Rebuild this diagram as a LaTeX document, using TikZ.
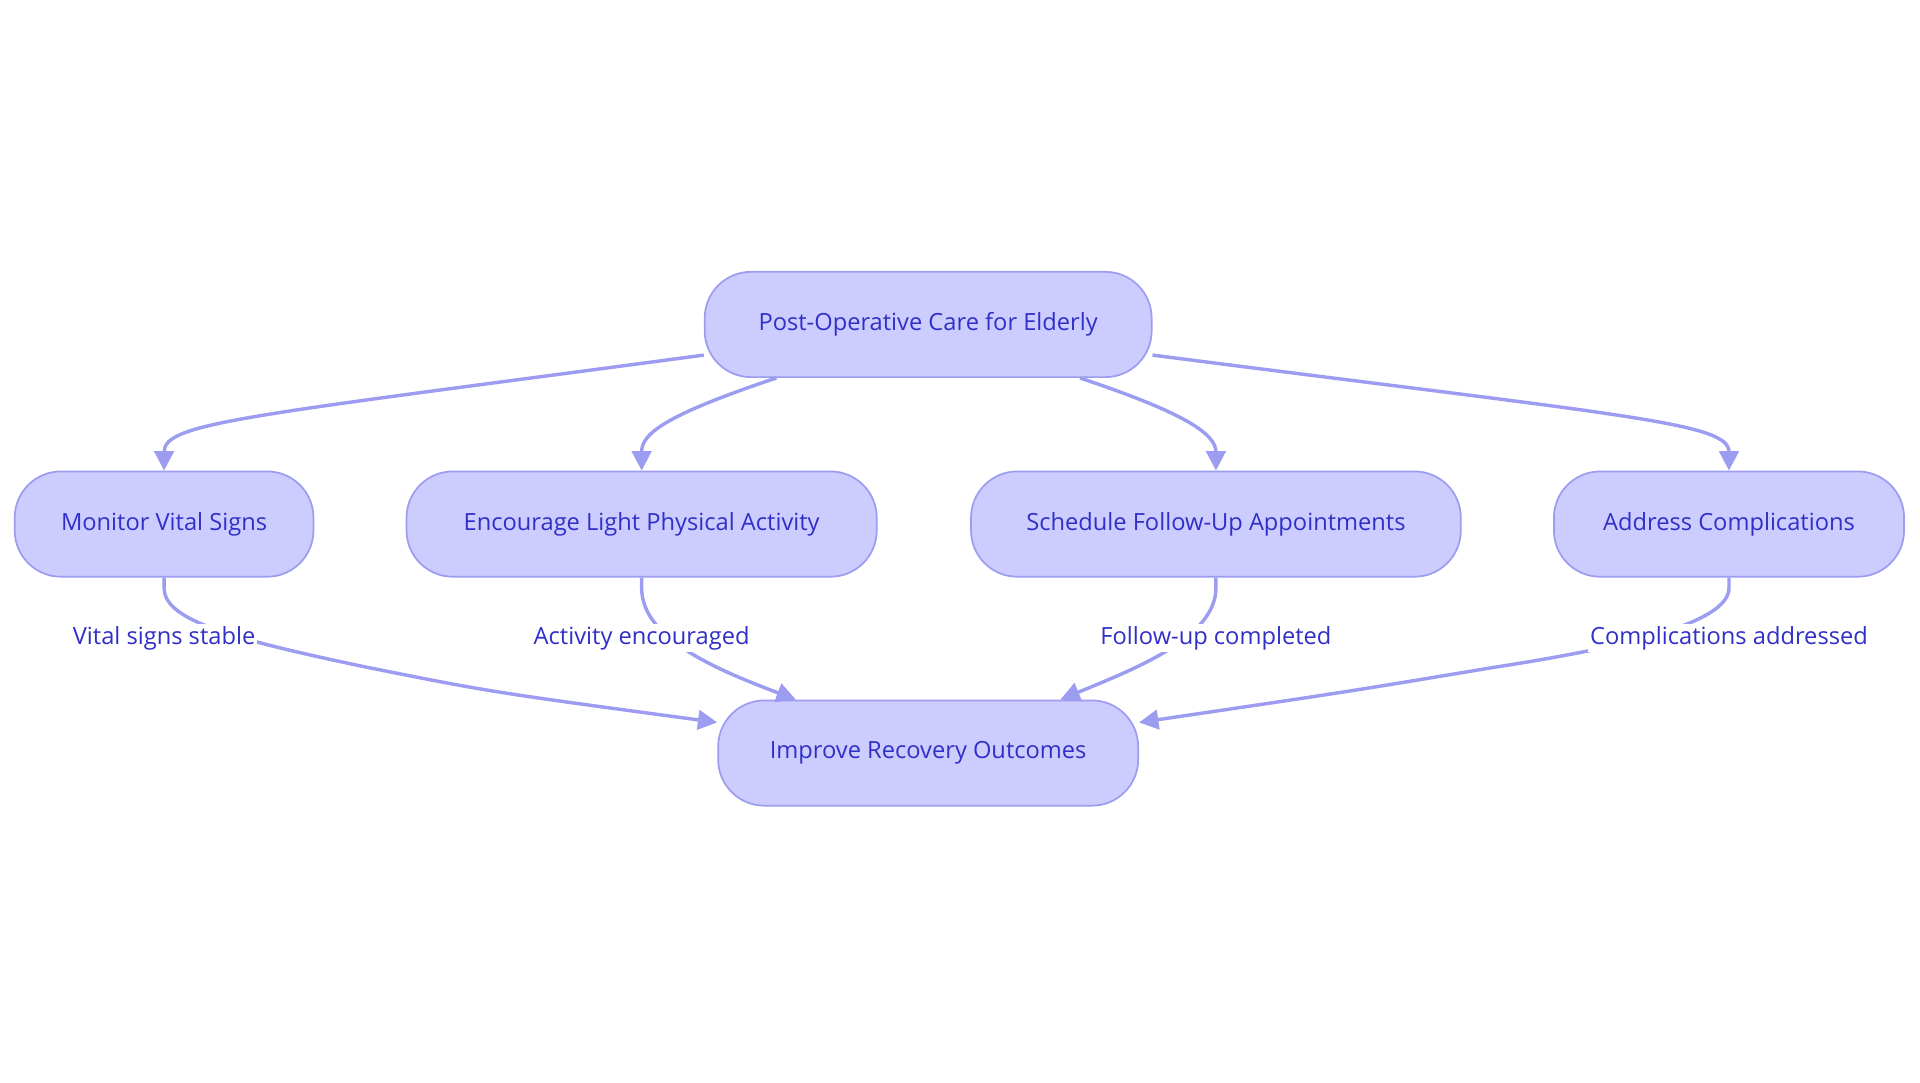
\documentclass[tikz,border=0pt]{standalone}
\usepackage{fontspec}
\setmainfont{Open Sans}
\usetikzlibrary{arrows.meta,calc}
\definecolor{nfill}{HTML}{CCCCFF}
\definecolor{nline}{HTML}{9C9CF0}
\definecolor{ntext}{HTML}{3030C8}
\begin{document}
\begin{tikzpicture}[x=0.02cm,y=-0.02cm,
  box/.style={draw=nline,line width=0.8pt,fill=nfill,rounded corners=21.5pt,minimum height=86*0.02cm,text=ntext,font=\fontsize{11}{13}\selectfont,inner sep=0pt},
  edge/.style={draw=nline,line width=1.6pt,-{Triangle[length=9pt,width=9pt]}},
  lab/.style={fill=white,text=ntext,font=\fontsize{11}{13}\selectfont,inner sep=1pt}]
\useasboundingbox (0,0) rectangle (1568,884);
\node[box,minimum width=365*0.02cm] (top) at (758,265) {Post-Operative Care for Elderly};
\node[box,minimum width=244*0.02cm] (mon) at (134,428) {Monitor Vital Signs};
\node[box,minimum width=384*0.02cm] (enc) at (524,428) {Encourage Light Physical Activity};
\node[box,minimum width=400*0.02cm] (sch) at (993,428) {Schedule Follow-Up Appointments};
\node[box,minimum width=286*0.02cm] (add) at (1412,428) {Address Complications};
\node[box,minimum width=343*0.02cm] (imp) at (758,615) {Improve Recovery Outcomes};
% top edges
\draw[edge] ($(top.west)+(0,25)$) .. controls (200,340) and (134,345) .. (mon.north);
\draw[edge] ($(top.south)+(-124,0)$) .. controls (540,340) and (524,355) .. (enc.north);
\draw[edge] ($(top.south)+(124,0)$) .. controls (970,338) and (993,355) .. (sch.north);
\draw[edge] ($(top.east)+(0,25)$) .. controls (1330,340) and (1412,345) .. (add.north);
% bottom edges
\draw[edge] (mon.south) -- (134,480) .. controls (134,505) and (180,520) .. (300,545) .. controls (400,565) .. ($(imp.west)+(0,-25)$);
\draw[edge] (enc.south) -- (524,480) .. controls (524,520) and (580,545) .. ($(imp.north)+(-108,0)$);
\draw[edge] (sch.south) -- (993,480) .. controls (993,520) and (930,545) .. ($(imp.north)+(108,0)$);
\draw[edge] (add.south) -- (1412,480) .. controls (1412,505) and (1350,525) .. (1220,545) .. controls (1100,565) .. ($(imp.east)+(0,-25)$);
\node[lab] (l1) at (134,521) {Vital signs stable};
\node[lab] (l2) at (524,521) {Activity encouraged};
\node[lab] (l3) at (993,521) {Follow-up completed};
\node[lab] (l4) at (1412,521) {Complications addressed};
\end{tikzpicture}
\end{document}
